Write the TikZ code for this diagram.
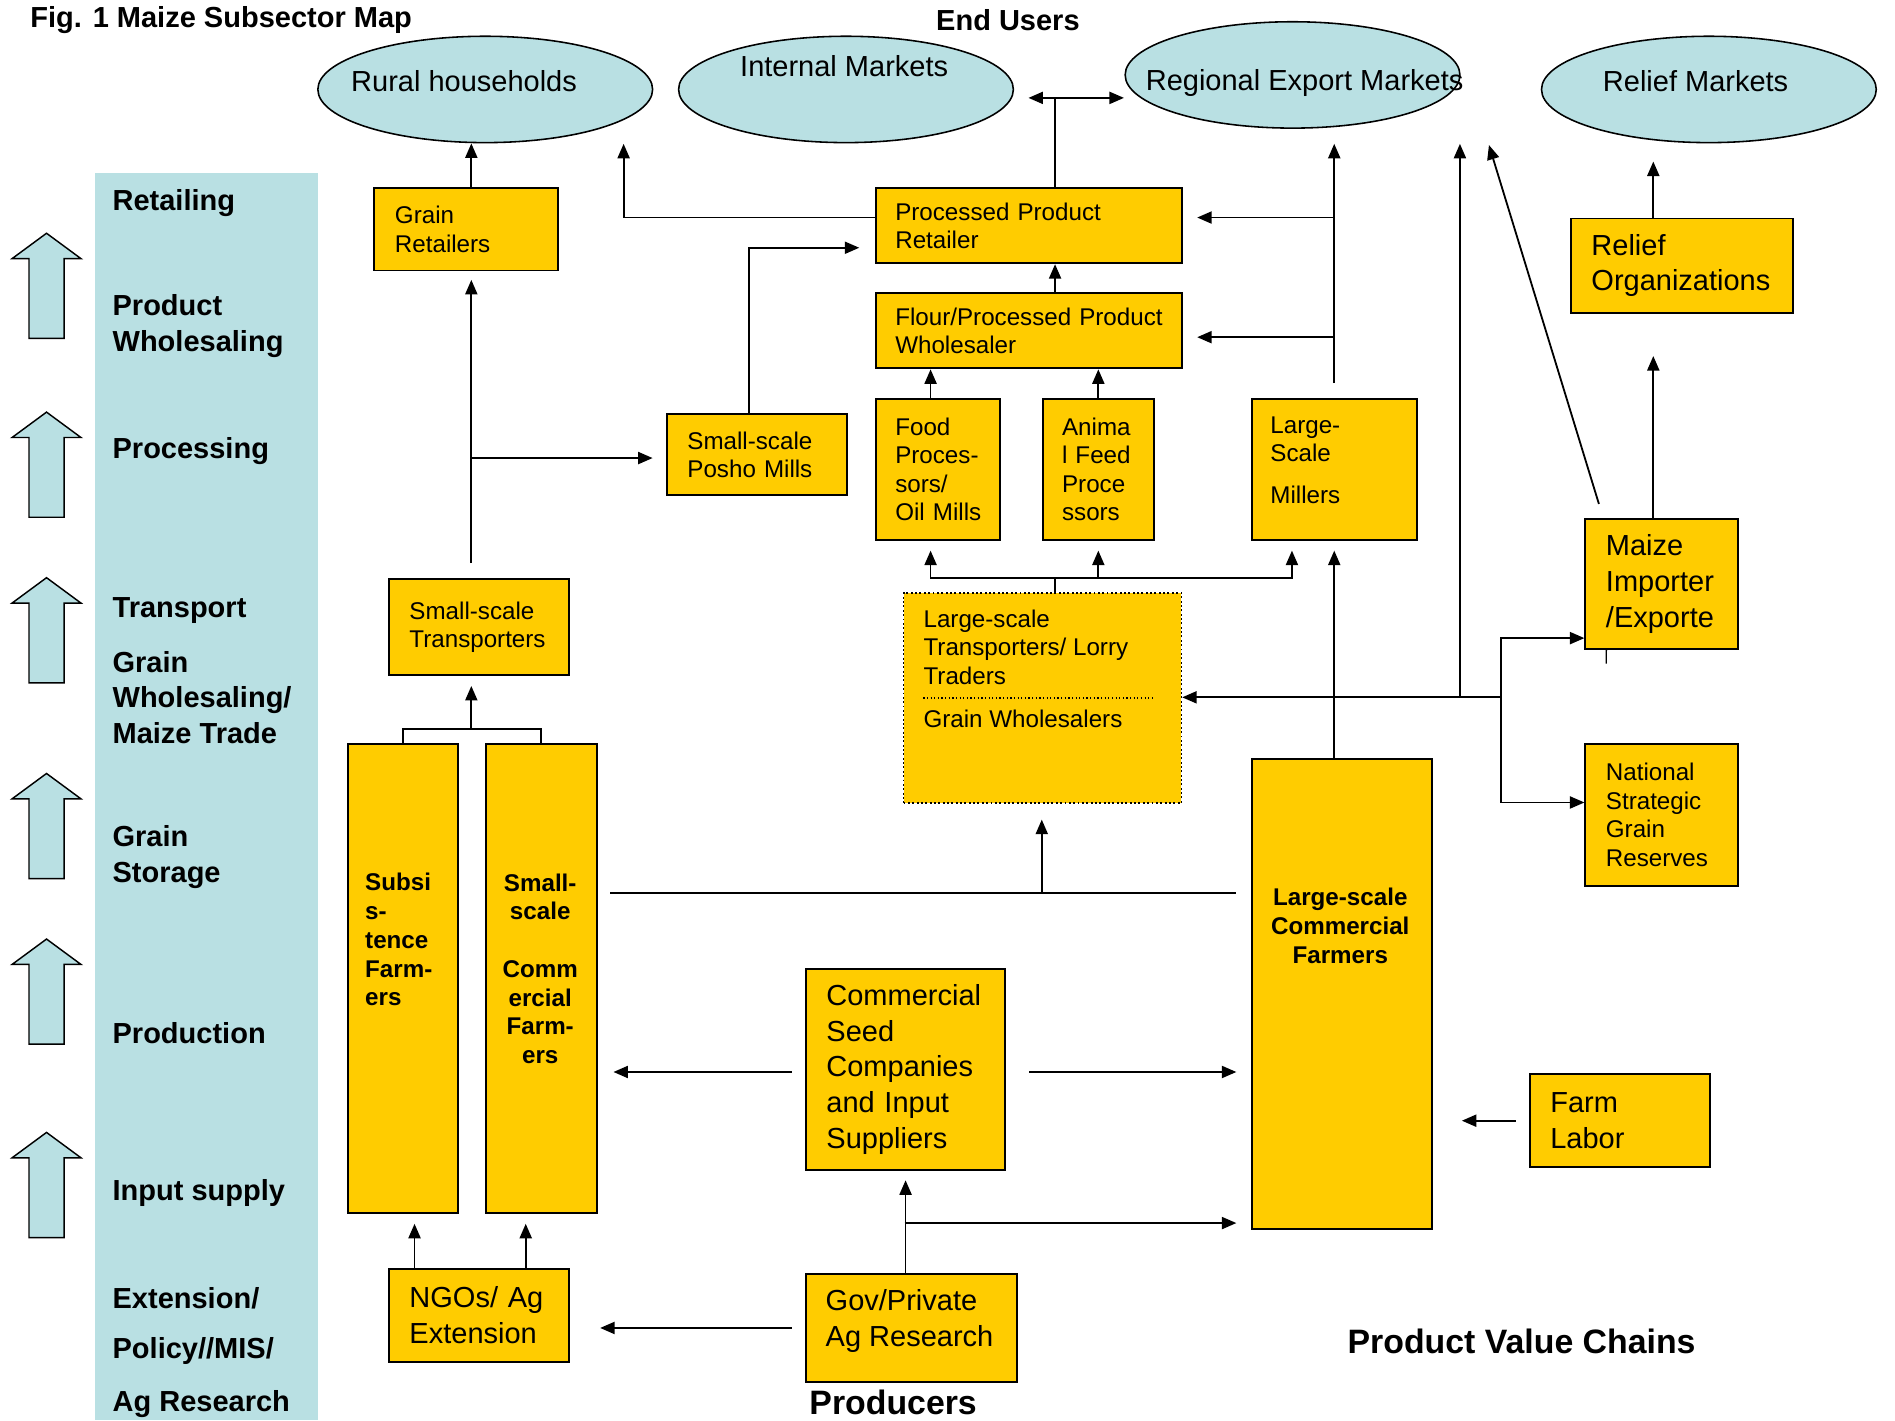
\documentclass[tikz,border=0pt]{standalone}
\usepackage{fontspec}
\setmainfont{Liberation Sans}
\usetikzlibrary{arrows.meta,shapes.geometric}
\definecolor{yel}{RGB}{255,204,0}
\definecolor{lblue}{RGB}{185,224,227}
\begin{document}
\begin{tikzpicture}[x=1pt,y=-1pt,
  box/.style={draw, fill=yel, line width=1.6pt, anchor=north west, inner xsep=17pt, inner ysep=0pt, align=left, font=\fontsize{20}{23.5}\selectfont},
  bigbox/.style={box, font=\fontsize{24}{29.5}\selectfont},
  ell/.style={draw, fill=lblue, ellipse, inner sep=0pt, line width=1.3pt, minimum width=277pt, minimum height=88pt},
  etext/.style={font=\fontsize{24}{28}\selectfont, inner sep=0pt},
  ttl/.style={font=\bfseries\fontsize{24}{28}\selectfont, inner sep=0pt},
  bigttl/.style={font=\bfseries\fontsize{28}{32}\selectfont, inner sep=0pt},
  lab/.style={anchor=west, align=left, font=\bfseries\fontsize{24}{29.5}\selectfont, inner sep=0pt},
  ftext/.style={font=\bfseries\fontsize{20}{23.8}\selectfont, align=left, inner sep=0pt},
  ptext/.style={font=\fontsize{20}{23.5}\selectfont, align=left, inner sep=0pt, anchor=west},
  btext/.style={font=\fontsize{24}{29.5}\selectfont, align=left, inner sep=0pt, anchor=west},
  ln/.style={line width=1.5pt},
  arr/.style={line width=1.5pt, -{Triangle[length=12pt,width=10pt]}},
  arr2/.style={line width=1.5pt, {Triangle[length=12pt,width=10pt]}-{Triangle[length=12pt,width=10pt]}},
  barrow/.style={fill=lblue, draw, line width=1.2pt}
]
\useasboundingbox (0,0) rectangle (1568,1175);

% left column
\fill[lblue] (79,143) rectangle (263,1175);
\foreach \t in {193,341,478,640,777,937}
  \draw[barrow] (24,\t+87) -- (24,\t+21) -- (10,\t+21) -- (38.5,\t) -- (67,\t+21) -- (53,\t+21) -- (53,\t+87) -- cycle;
\node[lab] (l1) at (93,168) {Retailing};
\node[lab] (l2) at (93,270) {Product\\Wholesaling};
\node[lab] (l3) at (93,373) {Processing};
\node[lab] (l4) at (93,505) {Transport};
\node[lab] (l5) at (93,577) {Grain\\Wholesaling/\\Maize Trade};
\node[lab] (l6) at (93,709) {Grain\\Storage};
\node[lab] (l7) at (93,855) {Production};
\node[lab] (l8) at (93,987) {Input supply};
\node[lab] (l9) at (93,1074) {Extension/};
\node[lab] (l10) at (93,1118) {Policy//MIS/};
\node[lab] (l11) at (93,1162) {Ag Research};

% titles
\node[ttl, anchor=west] (title) at (25,17) {Fig. 1 Maize Subsector Map};
\node[ttl] (eu) at (834,17) {End Users};
\node[bigttl] (prod) at (739,1160) {Producers};
\node[bigttl] (pvc) at (1259,1110) {Product Value Chains};

% ellipses
\node[ell] (rh) at (401.5,74) {};
\node[ell] (im) at (700,74) {};
\node[ell] (reg) at (1069.5,62) {};
\node[ell] (rm) at (1414,74) {};
\node[etext] (rht) at (384,67) {Rural households};
\node[etext] (imt) at (698.5,55) {Internal Markets};
\node[etext] (regt) at (1079.5,69) {Regional Export Markets};
\node[etext] (rmt) at (1403,67) {Relief Markets};

% boxes
\node[box, text width=118pt, minimum height=68pt] (gr) at (309,155) {Grain\\Retailers};
\node[box, inner xsep=16pt, text width=221pt, minimum height=62pt] (ppr) at (724,155) {\mbox{Processed Product}\\Retailer};
\node[box, inner xsep=16pt, text width=221pt, minimum height=62pt] (fpw) at (724,242) {\mbox{Flour/Processed Product}\\Wholesaler};
\node[box, text width=115pt, minimum height=67pt] (posho) at (551,342) {\mbox{Small-scale}\\\mbox{Posho Mills}};
\node[box, inner xsep=16pt, text width=71pt, minimum height=117pt] (food) at (724,329) {Food\\\mbox{Proces-}\\sors/\\\mbox{Oil Mills}};
\node[box, inner xsep=16pt, text width=60pt, minimum height=117pt] (feed) at (862,329) {Anima\\\mbox{l Feed}\\Proce\\ssors};
\node[box, minimum width=137pt, minimum height=117pt] (lsm) at (1035,329) {};
\node[ptext] (lsmt) at (1051,380.5) {Large-\\Scale\\[11pt]Millers};
\node[bigbox, text width=150pt, minimum height=78pt] (relorg) at (1299,180) {Relief\\\mbox{Organizations}};
\node[bigbox, text width=92pt, minimum height=107pt] (maize) at (1311,429) {Maize\\\mbox{Importer}\\\mbox{/Exporte}};
\node[box, text width=92pt, minimum height=117pt] (nsgr) at (1311,615) {National\\Strategic\\Grain\\\mbox{Reserves}};
\node[box, text width=115pt, minimum height=80pt] (sst) at (321,478) {\mbox{Small-scale}\\\mbox{Transporters}};
\node[bigbox, text width=131pt, minimum height=166pt] (seed) at (666,801) {\mbox{Commercial}\\Seed\\\mbox{Companies}\\\mbox{and Input}\\Suppliers};
\node[bigbox, text width=115pt, minimum height=77pt] (labor) at (1265,888) {Farm\\Labor};
\node[bigbox, text width=115pt, minimum height=77pt] (ngo) at (321,1049) {\mbox{NGOs/ Ag}\\\mbox{Extension}};
\node[box, minimum width=175pt, minimum height=90pt] (gov) at (666,1053) {};
\node[btext] (govt) at (683,1093) {Gov/Private\\Ag Research};

\node[box, minimum width=91pt, minimum height=388pt] (subs) at (287,615) {};
\node[box, minimum width=92pt, minimum height=388pt] (sscf) at (401,615) {};
\node[box, minimum width=149pt, minimum height=389pt] (lscf) at (1035,627) {};
\node[box, dotted, line width=1.2pt, minimum width=230pt, minimum height=174pt] (lst) at (747,490) {};

\node[ftext, anchor=west] (subst) at (302,777.5) {Subsi\\s-\\tence\\Farm-\\ers};
\node[ftext, align=center] (sscft) at (447,801.5) {Small-\\scale\\[23.8pt]Comm\\ercial\\Farm-\\ers};
\node[ftext, align=center] (lscft) at (1109,766) {Large-scale\\Commercial\\Farmers};
\node[ptext] (lstt) at (764,535.5) {Large-scale\\Transporters/ Lorry\\Traders};
\node[ptext] (gwt) at (764,595) {Grain Wholesalers};
\draw[dotted, line width=1pt] ([xshift=17pt]lst.west) -- ([xshift=-25pt]lst.east);

% remnant of clipped letter
\draw[line width=1pt] (1329,549) -- (1329,538) .. controls (1330,537) .. (1333,537);

% connectors
\coordinate (d0l) at (851,81); \coordinate (d0r) at (930,81); \coordinate (d0m) at (873,81);
\draw[arr2] (d0l) -- (d0r);
\draw[ln] (d0m) -- (d0m |- ppr.north);

\coordinate (x390) at (390,0);
\draw[arr] (gr.north -| x390) -- (x390 |- rh.south);

\coordinate (c2) at (516,180); \coordinate (c2e) at (516,119);
\draw[arr] (ppr.west |- c2) -- (c2) -- (c2e);

\coordinate (c3s) at (390,466);
\draw[arr, shorten >=7pt] (c3s) -- (c3s |- gr.south);
\coordinate (c4) at (390,379);
\draw[arr, shorten >=11pt] (c4) -- (c4 -| posho.west);

\coordinate (c5) at (620,205);
\draw[arr, shorten >=13pt] (c5 |- posho.north) -- (c5) -- (c5 -| ppr.west);

\coordinate (x873) at (873,0);
\draw[arr] (fpw.north -| x873) -- (ppr.south -| x873);
\coordinate (x770) at (770,0);
\draw[arr] (food.north -| x770) -- (fpw.south -| x770);
\draw[arr] (feed.north) -- (feed.north |- fpw.south);

\coordinate (c9e) at (1104,119);
\draw[arr, shorten <=12pt] (lsm.north -| c9e) -- (c9e);
\coordinate (c9a) at (1104,180); \coordinate (c9b) at (1104,279);
\draw[arr, shorten >=12pt] (c9a) -- (c9a -| ppr.east);
\draw[arr, shorten >=12pt] (c9b) -- (c9b -| fpw.east);

\coordinate (c10) at (873,478); \coordinate (c10l) at (770,478); \coordinate (c10r) at (1069,478);
\draw[ln] (c10 |- lst.north) -- (c10);
\draw[arr, shorten >=8pt] (c10) -- (c10l) -- (c10l |- food.south);
\draw[arr, shorten >=8pt] (c10) -- (c10r) -- (c10r |- lsm.south);
\draw[arr, shorten >=8pt] (feed.south |- c10) -- (feed.south);

\draw[arr, shorten >=8pt] (lscf.north -| c9e) -- (c9e |- lsm.south);

\coordinate (c12) at (1242,577); \coordinate (c13) at (1208,577); \coordinate (c13e) at (1208,119);
\draw[arr] (c12) -- (c12 -| lst.east);
\draw[arr] (c13) -- (c13e);
\coordinate (c14a) at (1242,528); \coordinate (c14b) at (1242,664);
\draw[arr2] (c14a -| maize.west) -- (c14a) -- (c14b) -- (c14b -| nsgr.west);

\coordinate (c15s) at (1323,417); \coordinate (c15e) at (1232,120);
\draw[arr] (c15s) -- (c15e);

\coordinate (x1368) at (1368,0);
\draw[arr, shorten >=35pt] (maize.north -| x1368) -- (x1368 |- relorg.south);
\draw[arr, shorten >=15pt] (relorg.north -| x1368) -- (x1368 |- rm.south);

\coordinate (c18) at (390,603);
\draw[ln] (subs.north) -- (subs.north |- c18) -- (sscf.north |- c18) -- (sscf.north);
\draw[arr, shorten >=8pt] (c18) -- (c18 |- sst.south);

\coordinate (c19l) at (505,739); \coordinate (c19r) at (1023,739); \coordinate (c19) at (862,739);
\draw[ln] (c19l) -- (c19r);
\draw[arr, shorten >=13pt] (c19) -- (c19 |- lst.south);

\coordinate (c20) at (0,887);
\draw[arr, shorten <=11pt, shorten >=13pt] (seed.west |- c20) -- (sscf.east |- c20);
\draw[arr, shorten <=19pt, shorten >=12pt] (seed.east |- c20) -- (lscf.west |- c20);

\draw[arr, shorten >=8pt] (seed.south |- gov.north) -- (seed.south);
\coordinate (c21) at (748.5,1012);
\draw[arr, shorten >=12pt] (c21) -- (c21 -| lscf.west);

\draw[arr, shorten <=11pt, shorten >=25pt] (gov.west) -- (gov.west -| ngo.east);
\coordinate (c23a) at (343,0); \coordinate (c23b) at (435,0);
\draw[arr, shorten >=8pt] (ngo.north -| c23a) -- (c23a |- subs.south);
\draw[arr, shorten >=8pt] (ngo.north -| c23b) -- (c23b |- sscf.south);
\draw[arr, shorten <=11pt, shorten >=24pt] (labor.west) -- (labor.west -| lscf.east);
\end{tikzpicture}
\end{document}
